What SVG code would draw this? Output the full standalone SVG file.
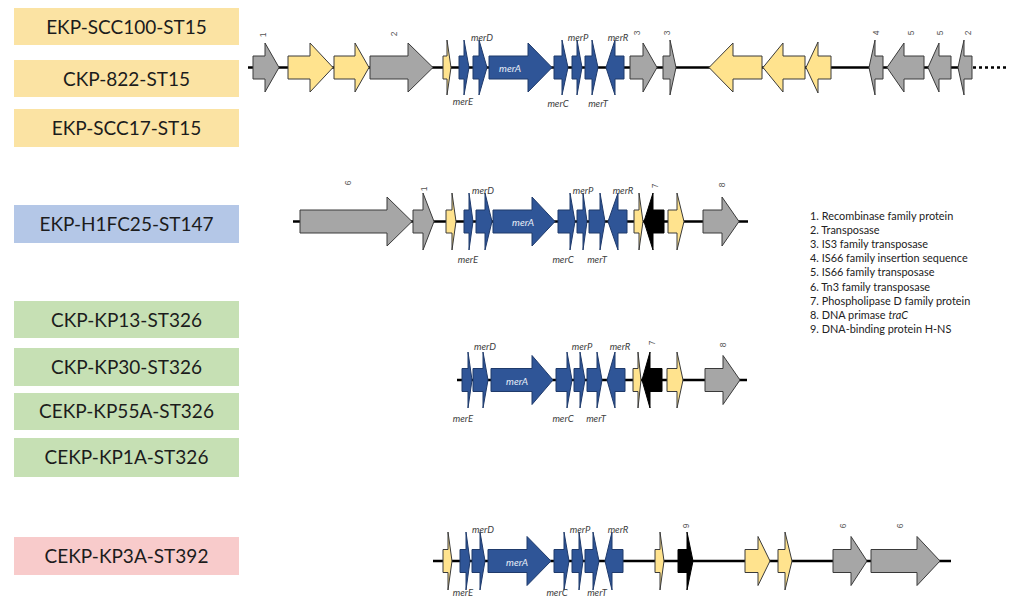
<svg xmlns="http://www.w3.org/2000/svg" width="1010" height="598" viewBox="0 0 1010 598">
  <style>
    .strain text { font-family: Lato, "Liberation Sans", sans-serif; font-size: 19px; fill: #1c1c1c; text-anchor: middle; }
    .st15 { fill: #FBE3A3; }
    .st147 { fill: #B4C7E7; }
    .st326 { fill: #C6E0B4; }
    .st392 { fill: #F8CBCB; }
    .dna { stroke: #000; stroke-width: 2.4; fill: none; }
    .dots { stroke: #000; stroke-width: 2.4; stroke-dasharray: 3 3; fill: none; }
    polygon { stroke: #3a3a3a; stroke-width: 1; stroke-linejoin: miter; }
    .gr { fill: #A6A6A6; }
    .ye { fill: #FFE38E; }
    .bl { fill: #2F5597; stroke: #1f3a6b; }
    .bk { fill: #000; stroke: #000; }
    .num { font-family: "Liberation Sans", sans-serif; font-size: 8.5px; fill: #555; text-anchor: middle; dominant-baseline: central; }
    .mer { font-family: Lato, "Liberation Sans", sans-serif; font-size: 9.5px; font-style: italic; fill: #404040; text-anchor: middle; }
    .merA { font-family: Lato, "Liberation Sans", sans-serif; font-size: 10px; font-style: italic; fill: #E8EEF8; text-anchor: middle; dominant-baseline: central; }
    .legend text { font-family: Lato, "Liberation Sans", sans-serif; font-size: 10.9px; fill: #222; }
  </style>

  <!-- strain labels -->
  <g id="strain-EKP-SCC100-ST15" class="strain"><rect class="st15" x="14" y="8" width="225" height="37"/><text x="126.5" y="33.5">EKP-SCC100-ST15</text></g>
  <g id="strain-CKP-822-ST15" class="strain"><rect class="st15" x="14" y="60" width="225" height="37"/><text x="126.5" y="85.5">CKP-822-ST15</text></g>
  <g id="strain-EKP-SCC17-ST15" class="strain"><rect class="st15" x="14" y="109" width="225" height="38"/><text x="126.5" y="134.5">EKP-SCC17-ST15</text></g>
  <g id="strain-EKP-H1FC25-ST147" class="strain"><rect class="st147" x="14" y="205" width="225" height="38"/><text x="126.5" y="230.5">EKP-H1FC25-ST147</text></g>
  <g id="strain-CKP-KP13-ST326" class="strain"><rect class="st326" x="14" y="301" width="225" height="37"/><text x="126.5" y="326.5">CKP-KP13-ST326</text></g>
  <g id="strain-CKP-KP30-ST326" class="strain"><rect class="st326" x="14" y="348" width="225" height="38"/><text x="126.5" y="373.5">CKP-KP30-ST326</text></g>
  <g id="strain-CEKP-KP55A-ST326" class="strain"><rect class="st326" x="14" y="393" width="225" height="37"/><text x="126.5" y="418">CEKP-KP55A-ST326</text></g>
  <g id="strain-CEKP-KP1A-ST326" class="strain"><rect class="st326" x="14" y="438" width="225" height="39"/><text x="126.5" y="464">CEKP-KP1A-ST326</text></g>
  <g id="strain-CEKP-KP3A-ST392" class="strain"><rect class="st392" x="14" y="537" width="225" height="38"/><text x="126.5" y="562.5">CEKP-KP3A-ST392</text></g>

  <!-- DNA backbones -->
  <g id="backbones">
    <line class="dna" x1="248" y1="67.5" x2="972" y2="67.5"/>
    <line class="dots" x1="973" y1="67.5" x2="1006" y2="67.5"/>
    <line class="dna" x1="293" y1="221.5" x2="748" y2="221.5"/>
    <line class="dna" x1="457" y1="380" x2="747" y2="380"/>
    <line class="dna" x1="433" y1="561" x2="951" y2="561"/>
  </g>

  <!-- ST15 locus -->
  <g id="locus-ST15">
    <polygon class="gr" points="253,56 265,56 265,43 279,67.5 265,92 265,79 253,79"/>
    <polygon class="ye" points="288,56 310,56 310,43 333,67.5 310,92 310,79 288,79"/>
    <polygon class="ye" points="334,56 355,56 355,43 369,67.5 355,92 355,79 334,79"/>
    <polygon class="gr" points="370,56 408,56 408,43 433,67.5 408,92 408,79 370,79"/>
    <polygon class="ye" points="443,56 447,56 447,40 451,67.5 447,95 447,79 443,79"/>
    <polygon class="bl" points="459,56 464,56 464,40 469,67.5 464,95 464,79 459,79"/>
    <polygon class="bl" points="473,56 479,56 479,40 487,67.5 479,95 479,79 473,79"/>
    <polygon class="bl" points="489,56 528,56 528,43 552,67.5 528,92 528,79 489,79"/>
    <polygon class="bl" points="554,56 562,56 562,40 568,67.5 562,95 562,79 554,79"/>
    <polygon class="bl" points="572,56 577,56 577,40 582,67.5 577,95 577,79 572,79"/>
    <polygon class="bl" points="585,56 592,56 592,40 598,67.5 592,95 592,79 585,79"/>
    <polygon class="bl" points="606,67.5 615,40 615,56 624,56 624,79 615,79 615,95"/>
    <polygon class="gr" points="630,56 643,56 643,43 657,67.5 643,92 643,79 630,79"/>
    <polygon class="gr" points="663,56 670,56 670,40 676,67.5 670,95 670,79 663,79"/>
    <polygon class="ye" points="709,67.5 733,43 733,56 762,56 762,79 733,79 733,92"/>
    <polygon class="ye" points="763,67.5 783,43 783,56 805,56 805,79 783,79 783,92"/>
    <polygon class="ye" points="806,67.5 818,42 818,56 831,56 831,79 818,79 818,93"/>
    <polygon class="gr" points="869,67.5 875,40 875,56 883,56 883,79 875,79 875,95"/>
    <polygon class="gr" points="887,67.5 904,43 904,56 924,56 924,79 904,79 904,92"/>
    <polygon class="gr" points="928,67.5 939,43 939,56 951,56 951,79 939,79 939,92"/>
    <polygon class="gr" points="958,67.5 964,40 964,56 972,56 972,79 964,79 964,95"/>
    <text class="num" transform="translate(263,35) rotate(-90)">1</text>
    <text class="num" transform="translate(394,34) rotate(-90)">2</text>
    <text class="num" transform="translate(637,33) rotate(-90)">3</text>
    <text class="num" transform="translate(667,33) rotate(-90)">3</text>
    <text class="num" transform="translate(876,33) rotate(-90)">4</text>
    <text class="num" transform="translate(911,33) rotate(-90)">5</text>
    <text class="num" transform="translate(940,33) rotate(-90)">5</text>
    <text class="num" transform="translate(968,33) rotate(-90)">2</text>
    <text class="mer" x="482" y="41">merD</text>
    <text class="mer" x="578" y="41">merP</text>
    <text class="mer" x="618" y="41">merR</text>
    <text class="mer" x="463" y="105">merE</text>
    <text class="mer" x="558" y="107">merC</text>
    <text class="mer" x="598" y="107">merT</text>
    <text class="merA" x="510" y="68">merA</text>
  </g>

  <!-- ST147 locus -->
  <g id="locus-ST147">
    <polygon class="gr" points="300,210 387,210 387,197 412,221.5 387,246 387,233 300,233"/>
    <polygon class="gr" points="413,210 423,210 423,193 434,221.5 423,250 423,233 413,233"/>
    <polygon class="ye" points="446,210 452,210 452,193 456,221.5 452,250 452,233 446,233"/>
    <polygon class="bl" points="464,210 469,210 469,193 473,221.5 469,250 469,233 464,233"/>
    <polygon class="bl" points="476,210 485,210 485,193 492,221.5 485,250 485,233 476,233"/>
    <polygon class="bl" points="493,210 532,210 532,197 555,221.5 532,246 532,233 493,233"/>
    <polygon class="bl" points="558,210 570,210 570,193 575,221.5 570,250 570,233 558,233"/>
    <polygon class="bl" points="577,210 583,210 583,193 587,221.5 583,250 583,233 577,233"/>
    <polygon class="bl" points="589,210 600,210 600,193 605,221.5 600,250 600,233 589,233"/>
    <polygon class="bl" points="608,221.5 618,193 618,210 627,210 627,233 618,233 618,250"/>
    <polygon class="ye" points="634,210 639,210 639,193 643,221.5 639,250 639,233 634,233"/>
    <polygon class="bk" points="644,221.5 653,193 653,210 664,210 664,233 653,233 653,250"/>
    <polygon class="ye" points="668,210 677,210 677,193 684,221.5 677,250 677,233 668,233"/>
    <polygon class="gr" points="703,210 722,210 722,197 739,221.5 722,246 722,233 703,233"/>
    <text class="num" transform="translate(348,183) rotate(-90)">6</text>
    <text class="num" transform="translate(424,189) rotate(-90)">1</text>
    <text class="num" transform="translate(655,186) rotate(-90)">7</text>
    <text class="num" transform="translate(722,185) rotate(-90)">8</text>
    <text class="mer" x="483" y="194">merD</text>
    <text class="mer" x="583" y="194">merP</text>
    <text class="mer" x="623" y="194">merR</text>
    <text class="mer" x="468" y="263">merE</text>
    <text class="mer" x="563" y="263">merC</text>
    <text class="mer" x="597" y="263">merT</text>
    <text class="merA" x="523" y="222">merA</text>
  </g>

  <!-- ST326 locus -->
  <g id="locus-ST326">
    <polygon class="bl" points="462,368.5 468,368.5 468,352 472,380 468,408 468,391.5 462,391.5"/>
    <polygon class="bl" points="473,368.5 483,368.5 483,352 488,380 483,408 483,391.5 473,391.5"/>
    <polygon class="bl" points="491,368.5 532,368.5 532,355.5 553,380 532,404.5 532,391.5 491,391.5"/>
    <polygon class="bl" points="556,368.5 567,368.5 567,352 572,380 567,408 567,391.5 556,391.5"/>
    <polygon class="bl" points="574,368.5 580,368.5 580,352 585,380 580,408 580,391.5 574,391.5"/>
    <polygon class="bl" points="587,368.5 597,368.5 597,352 602,380 597,408 597,391.5 587,391.5"/>
    <polygon class="bl" points="607,380 615,352 615,368.5 625,368.5 625,391.5 615,391.5 615,408"/>
    <polygon class="ye" points="633,368.5 638,368.5 638,352 641,380 638,408 638,391.5 633,391.5"/>
    <polygon class="bk" points="642,380 650,352 650,368.5 662,368.5 662,391.5 650,391.5 650,408"/>
    <polygon class="ye" points="667,368.5 677,368.5 677,352 683,380 677,408 677,391.5 667,391.5"/>
    <polygon class="gr" points="705,368.5 723,368.5 723,355.5 740,380 723,404.5 723,391.5 705,391.5"/>
    <text class="num" transform="translate(652,343) rotate(-90)">7</text>
    <text class="num" transform="translate(723,345) rotate(-90)">8</text>
    <text class="mer" x="485" y="350">merD</text>
    <text class="mer" x="582" y="350">merP</text>
    <text class="mer" x="620" y="350">merR</text>
    <text class="mer" x="463" y="422">merE</text>
    <text class="mer" x="563" y="422">merC</text>
    <text class="mer" x="596" y="422">merT</text>
    <text class="merA" x="517" y="381">merA</text>
  </g>

  <!-- ST392 locus -->
  <g id="locus-ST392">
    <polygon class="ye" points="443,549.5 448,549.5 448,532 452,561 448,590 448,572.5 443,572.5"/>
    <polygon class="bl" points="460,549.5 466,549.5 466,532 470,561 466,590 466,572.5 460,572.5"/>
    <polygon class="bl" points="472,549.5 480,549.5 480,532 485,561 480,590 480,572.5 472,572.5"/>
    <polygon class="bl" points="488,549.5 527,549.5 527,536.5 551,561 527,585.5 527,572.5 488,572.5"/>
    <polygon class="bl" points="554,549.5 564,549.5 564,532 569,561 564,590 564,572.5 554,572.5"/>
    <polygon class="bl" points="572,549.5 579,549.5 579,532 583,561 579,590 579,572.5 572,572.5"/>
    <polygon class="bl" points="585,549.5 593,549.5 593,532 599,561 593,590 593,572.5 585,572.5"/>
    <polygon class="bl" points="605,561 612,532 612,549.5 623,549.5 623,572.5 612,572.5 612,590"/>
    <polygon class="ye" points="655,549.5 660,549.5 660,532 664,561 660,590 660,572.5 655,572.5"/>
    <polygon class="bk" points="678,549.5 687,549.5 687,532 693,561 687,590 687,572.5 678,572.5"/>
    <polygon class="ye" points="745,549.5 758,549.5 758,536.5 770,561 758,585.5 758,572.5 745,572.5"/>
    <polygon class="ye" points="778,549.5 785,549.5 785,532 792,561 785,590 785,572.5 778,572.5"/>
    <polygon class="gr" points="833,549.5 851,549.5 851,536.5 867,561 851,585.5 851,572.5 833,572.5"/>
    <polygon class="gr" points="871,549.5 917,549.5 917,536.5 940,561 917,585.5 917,572.5 871,572.5"/>
    <text class="num" transform="translate(686,526) rotate(-90)">9</text>
    <text class="num" transform="translate(843,526) rotate(-90)">6</text>
    <text class="num" transform="translate(900,526) rotate(-90)">6</text>
    <text class="mer" x="483" y="533">merD</text>
    <text class="mer" x="580" y="533">merP</text>
    <text class="mer" x="618" y="533">merR</text>
    <text class="mer" x="463" y="596">merE</text>
    <text class="mer" x="557" y="596">merC</text>
    <text class="mer" x="597" y="596">merT</text>
    <text class="merA" x="517" y="562">merA</text>
  </g>

  <!-- gene key -->
  <g id="legend" class="legend">
    <text x="810" y="219.5">1. Recombinase family protein</text>
    <text x="810" y="233.7">2. Transposase</text>
    <text x="810" y="247.9">3. IS3 family transposase</text>
    <text x="810" y="262.1">4. IS66 family insertion sequence</text>
    <text x="810" y="276.3">5. IS66 family transposase</text>
    <text x="810" y="290.5">6. Tn3 family transposase</text>
    <text x="810" y="304.7">7. Phospholipase D family protein</text>
    <text x="810" y="318.9">8. DNA primase <tspan font-style="italic">traC</tspan></text>
    <text x="810" y="333.1">9. DNA-binding protein H-NS</text>
  </g>
</svg>
